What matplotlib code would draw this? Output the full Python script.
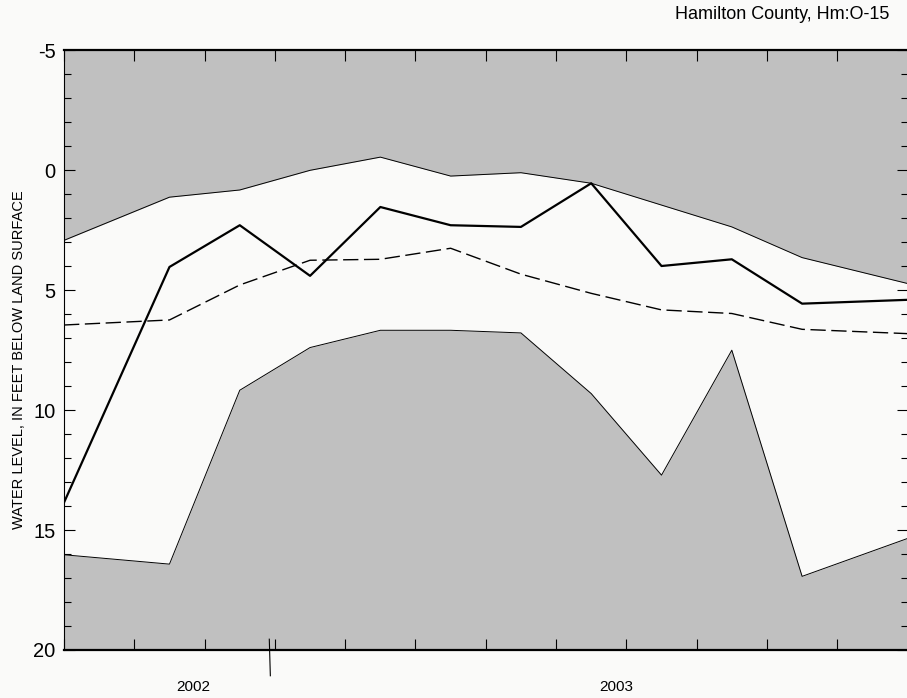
import matplotlib
matplotlib.use("Agg")
import matplotlib.pyplot as plt
import matplotlib.transforms as mtransforms
import numpy as np

plt.rcParams['font.family'] = ['Liberation Sans', 'DejaVu Sans']
plt.rcParams['axes.unicode_minus'] = False

# months since start of window (mid-month readings, edges at 0 and 12)
months = [0, 1.5, 2.5, 3.5, 4.5, 5.5, 6.5, 7.5, 8.5, 9.5, 10.5, 12]
# depth to water, feet below land surface
level_max = [2.92, 1.12, 0.82, 0.0, -0.55, 0.24, 0.1, 0.54, 1.45, 2.36, 3.64, 4.72]
level_min = [16.03, 16.42, 9.17, 7.39, 6.67, 6.67, 6.78, 9.31, 12.71, 7.5, 16.93, 15.35]
level_median = [6.45, 6.24, 4.78, 3.75, 3.71, 3.25, 4.33, 5.13, 5.82, 5.97, 6.63, 6.81]
level_current = [13.85, 4.03, 2.29, 4.4, 1.53, 2.29, 2.36, 0.54, 3.99, 3.71, 5.56, 5.4]

year_labels = ['2002', '2003']
year_pos = [1.84, 7.85]
year_break = 2.92

bg = '#fafaf9'
gray = '#c0c0c0'

fig = plt.figure(figsize=(9.07, 6.98), dpi=100, facecolor=bg)
ax = fig.add_axes([0.0706, 0.0688, 0.93, 0.859])
ax.set_facecolor(gray)

ax.fill_between(months, level_max, level_min, color=bg, lw=0)
ax.plot(months, level_max, color='black', lw=0.7)
ax.plot(months, level_min, color='black', lw=0.7)
ax.plot(months, level_median, color='black', lw=1.0, linestyle=(0, (11, 4)))
ax.plot(months, level_current, color='black', lw=1.6)

ax.set_xlim(0, 12)
ax.set_ylim(20, -5)

ax.set_yticks([-5, 0, 5, 10, 15, 20])
ax.set_yticks(np.arange(-5, 21, 1), minor=True)
ax.set_xticks(np.arange(0, 13, 1))
ax.set_xticklabels([])
ax.tick_params(axis='y', which='major', direction='in', length=8, width=0.8,
               left=True, right=True, labelsize=14.5, pad=6)
ax.tick_params(axis='y', which='minor', direction='in', length=5, width=0.8,
               left=True, right=True)
ax.tick_params(axis='x', which='major', direction='in', length=8, width=0.8,
               bottom=True, top=True)

ax.spines['top'].set_linewidth(1.6)
ax.spines['bottom'].set_linewidth(1.6)
ax.spines['left'].set_linewidth(0.8)
ax.spines['right'].set_visible(False)

# year labels and separator below the axis
trans = mtransforms.blended_transform_factory(ax.transData, ax.transAxes)
for lab, xp in zip(year_labels, year_pos):
    ax.text(xp, -0.062, lab, transform=trans, ha='center', va='center', fontsize=11)
ax.plot([year_break, year_break + 0.015], [0.018, -0.043], transform=trans,
        color='black', lw=0.8, clip_on=False)

fig.text(0.0205, 0.484, 'WATER LEVEL, IN FEET BELOW LAND SURFACE', rotation=90,
         ha='center', va='center', fontsize=10.5)
fig.text(0.981, 0.979, 'Hamilton County, Hm:O-15', ha='right', va='center', fontsize=13)

fig.savefig('out.png', dpi=100, facecolor=bg)
